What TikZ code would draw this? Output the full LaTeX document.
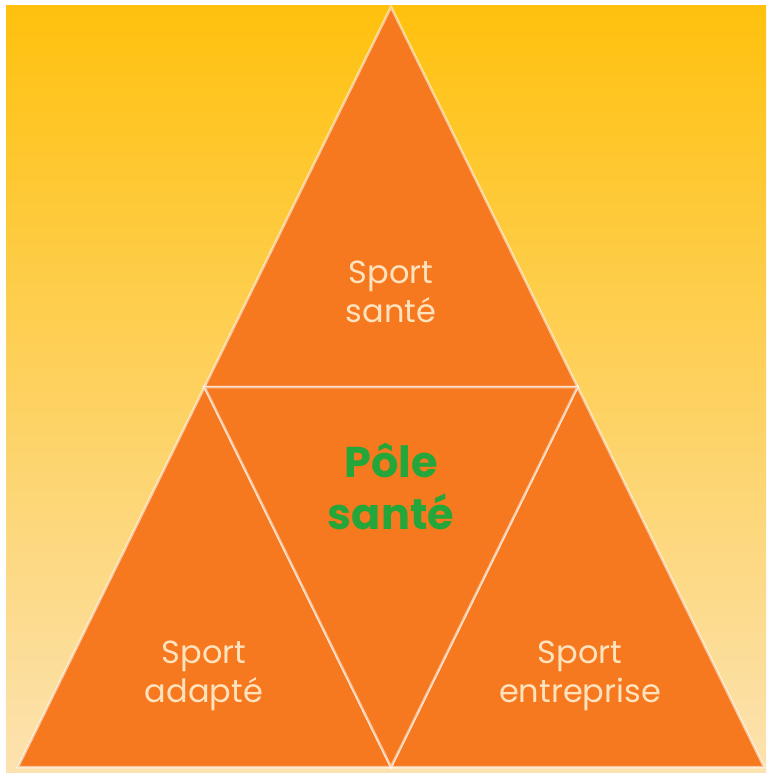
\documentclass[tikz,border=0pt]{standalone}
\usepackage{fontspec}
\setmainfont{Poppins}
\usetikzlibrary{positioning,calc}
\tikzstyle{canvas} = [x=1pt, y=-1pt]
\definecolor{bgTop}{RGB}{255,193,14}
\definecolor{bgMiddle}{RGB}{253,206,90}
\definecolor{bgBottom}{RGB}{252,226,176}
\definecolor{pieceColor}{RGB}{246,121,31}
\definecolor{labelColor}{RGB}{255,226,190}
\definecolor{poleColor}{RGB}{36,166,58}
\tikzstyle{pieceStyle} = [fill=pieceColor, draw=white, draw opacity=0.55, line width=2.5pt, line join=miter]
\tikzstyle{labelText} = [text=labelColor, font=\fontsize{32}{39}\selectfont, align=center, inner sep=0pt]
\tikzstyle{poleText} = [text=poleColor, font=\fontsize{43}{52}\selectfont\bfseries, align=center, inner sep=0pt]
\newcommand{\piece}[3]{\filldraw [pieceStyle] (#1) -- (#2) -- (#3) -- cycle;}

\begin{document}
\begin{tikzpicture}[canvas]
    \fill [white] (0,0) rectangle (771,778);
    \shade [top color=bgTop, middle color=bgMiddle, bottom color=bgBottom] (6,6) rectangle (766,772);
    % corners of the pyramid
    \coordinate (apex) at (391,7);
    \coordinate (baseLeft) at (18,767);
    \coordinate (baseRight) at (764,767);
    \coordinate (midLeft) at ($(apex)!0.5!(baseLeft)$);
    \coordinate (midRight) at ($(apex)!0.5!(baseRight)$);
    \coordinate (midBase) at ($(baseLeft)!0.5!(baseRight)$);
    \piece{apex}{midLeft}{midRight}
    \piece{midLeft}{baseLeft}{midBase}
    \piece{midRight}{midBase}{baseRight}
    \piece{midLeft}{midRight}{midBase}
    \node [labelText] (topLabel) at (391,292) {Sport\\santé};
    \node [labelText] (leftLabel) at (204,676) {Sport\\adapté};
    \node [labelText] (rightLabel) at (580,676) {Sport\\entreprise};
    \node [poleText] (poleLabel) at (391,487) {Pôle\\santé};
\end{tikzpicture}
\end{document}
